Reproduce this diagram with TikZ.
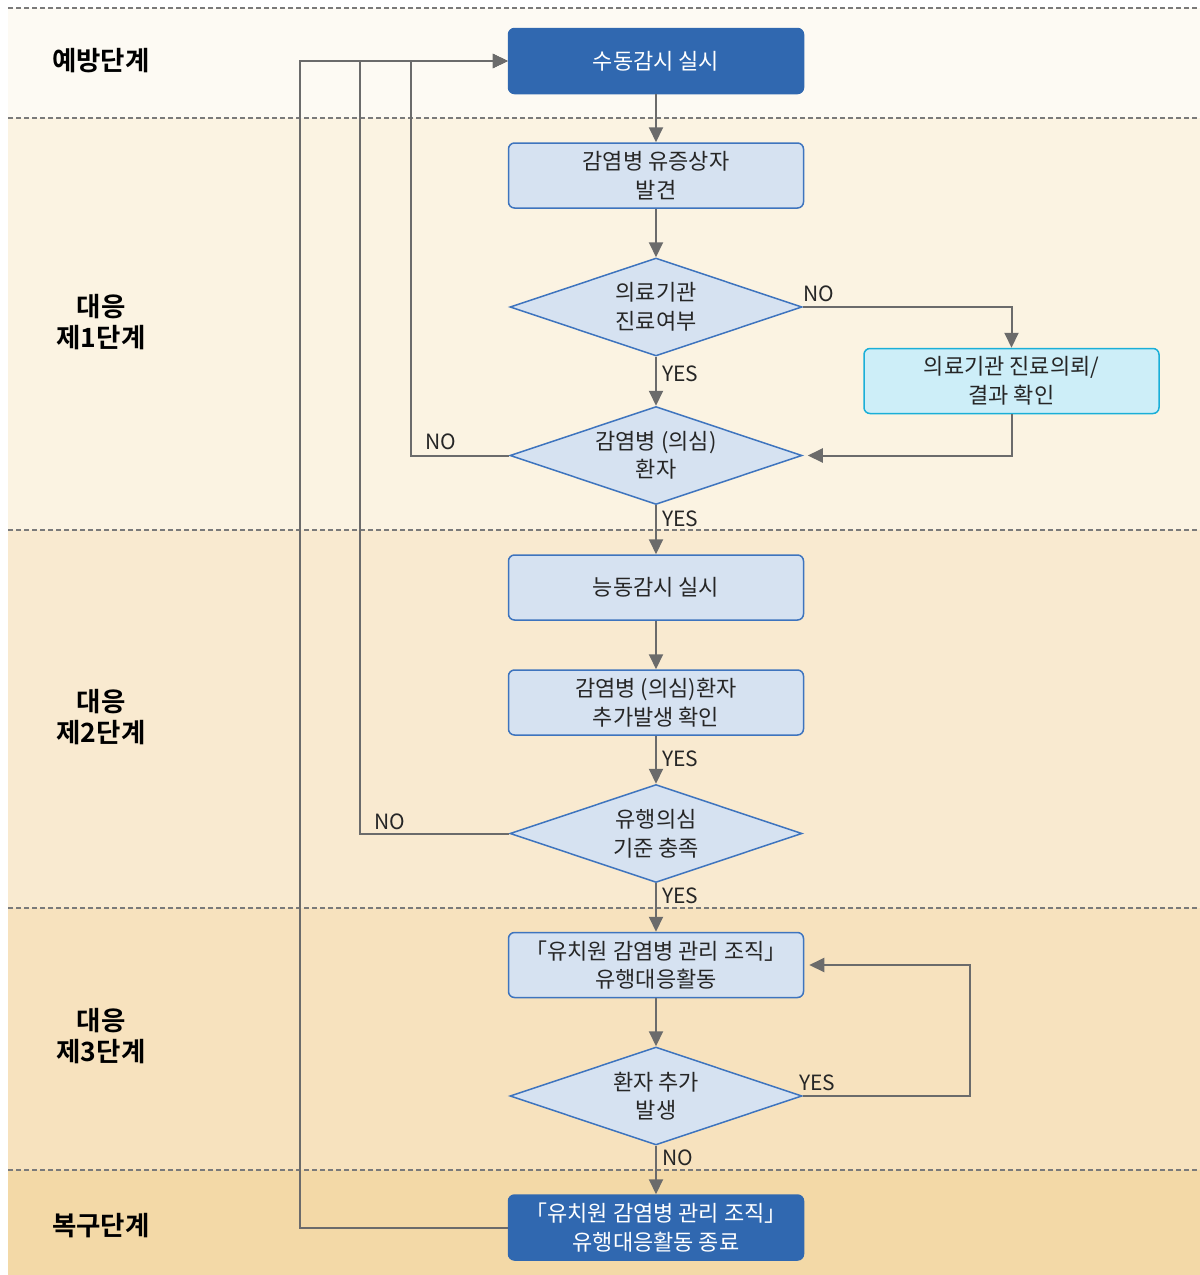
\documentclass[tikz,border=0pt]{standalone}
\usepackage{fontspec}
\setmainfont{Noto Sans CJK KR}[BoldFont={Noto Sans CJK KR Bold}]
\usetikzlibrary{shapes.geometric,arrows.meta}
\definecolor{bandA}{HTML}{FDFAF3}
\definecolor{bandB}{HTML}{FBF3E2}
\definecolor{bandC}{HTML}{F9EAD0}
\definecolor{bandD}{HTML}{F7E2BE}
\definecolor{bandE}{HTML}{F3D9A7}
\definecolor{darkblue}{HTML}{3068B0}
\definecolor{lightfill}{HTML}{D6E2F1}
\definecolor{lightedge}{HTML}{3E74BE}
\definecolor{cyanfill}{HTML}{CDEEF8}
\definecolor{cyanedge}{HTML}{1AAFD8}
\definecolor{linegray}{HTML}{6B6B6B}
\definecolor{dashgray}{HTML}{7A7A7A}
\begin{document}
\begin{tikzpicture}[x=1pt,y=-1pt,
  boxbase/.style={rectangle, rounded corners=6pt, minimum width=295pt, minimum height=65pt,
    line width=1.5pt, align=center, inner sep=2pt, font=\fontsize{22}{28.5}\selectfont},
  darkbox/.style={boxbase, fill=darkblue, draw=darkblue, text=white},
  lightbox/.style={boxbase, fill=lightfill, draw=lightedge, text=black!85},
  cyanbox/.style={boxbase, fill=cyanfill, draw=cyanedge, text=black!85},
  decision/.style={diamond, aspect=2.98, minimum width=292pt, minimum height=98pt, inner sep=0pt,
    fill=lightfill, draw=lightedge, line width=1.5pt, align=center, text=black!85,
    font=\fontsize{22}{28.5}\selectfont},
  arr/.style={draw=linegray, line width=2pt, -{Triangle[length=15pt,width=14pt]}},
  lbl/.style={inner sep=0pt, anchor=base west, text=black!85, font=\fontsize{21}{22}\selectfont},
  phase/.style={align=center, text=black, font=\bfseries\fontsize{26.5}{31}\selectfont},
  dashline/.style={draw=dashgray, line width=1.4pt, dash pattern=on 5pt off 3pt}
]
\useasboundingbox (0,0) rectangle (1200,1275);
\fill[white] (0,0) rectangle (1200,1275);
\fill[bandA] (8,8) rectangle (1200,118);
\fill[bandB] (8,118) rectangle (1200,530);
\fill[bandC] (8,530) rectangle (1200,908);
\fill[bandD] (8,908) rectangle (1200,1170);
\fill[bandE] (8,1170) rectangle (1200,1275);
\foreach \yy in {8,118,530,908,1170} \draw[dashline] (8,\yy) -- (1200,\yy);

% phase labels
\node[phase] (p0) at (101,61) {예방단계};
\node[phase] (p1) at (101,322) {대응\\제1단계};
\node[phase] (p2) at (101,717) {대응\\제2단계};
\node[phase] (p3) at (101,1036) {대응\\제3단계};
\node[phase] (p4) at (101,1226) {복구단계};

% nodes
\node[darkbox] (n1) at (656,61) {수동감시 실시};
\node[lightbox] (n2) at (656,175.5) {감염병 유증상자\\발견};
\node[decision] (d1) at (656,307) {의료기관\\진료여부};
\node[cyanbox] (r1) at (1011.5,381) {의료기관 진료의뢰/\\결과 확인};
\node[decision] (d2) at (656,455.5) {감염병 (의심)\\환자};
\node[lightbox] (n3) at (656,587.5) {능동감시 실시};
\node[lightbox] (n4) at (656,702.5) {감염병 (의심)환자\\추가발생 확인};
\node[decision] (d3) at (656,833.5) {유행의심\\기준 충족};
\node[lightbox] (n5) at (656,965) {「유치원 감염병 관리 조직」\\유행대응활동};
\node[decision] (d4) at (656,1096) {환자 추가\\발생};
\node[darkbox] (n6) at (656,1227.5) {「유치원 감염병 관리 조직」\\유행대응활동 종료};

% junction coordinates
\coordinate (j1) at (411,455.5);
\coordinate (j2) at (360,833.5);
\coordinate (j3) at (300,1227.5);
\coordinate (j4) at (970,1096);

% connectors
\draw[arr] (n1) -- (n2);
\draw[arr] (n2) -- (d1);
\draw[arr] (d1) -- (d2);
\draw[arr] (d1.east) -| (r1.north);
\draw[arr, shorten >=5pt] (r1.south) |- (d2.east);
\draw[arr] (d2) -- (n3);
\draw[arr] (n3) -- (n4);
\draw[arr] (n4) -- (d3);
\draw[arr] (d3) -- (n5);
\draw[arr] (n5) -- (d4);
\draw[arr] (d4) -- (n6);
\draw[arr, shorten >=5pt] (d4.east) -- (j4) |- (n5.east);
\draw[arr] (n6.west) -- (j3) |- (n1.west);
\draw[arr] (d3.west) -- (j2) |- (n1.west);
\draw[arr] (d2.west) -- (j1) |- (n1.west);

% labels
\node[lbl] (l1) at (803,301) {NO};
\node[lbl] (l2) at (662,381) {YES};
\node[lbl] (l3) at (425,449) {NO};
\node[lbl] (l4) at (662,526) {YES};
\node[lbl] (l5) at (662,766) {YES};
\node[lbl] (l6) at (374,829) {NO};
\node[lbl] (l7) at (662,903) {YES};
\node[lbl] (l8) at (799,1090) {YES};
\node[lbl] (l9) at (662,1165) {NO};
\end{tikzpicture}
\end{document}
